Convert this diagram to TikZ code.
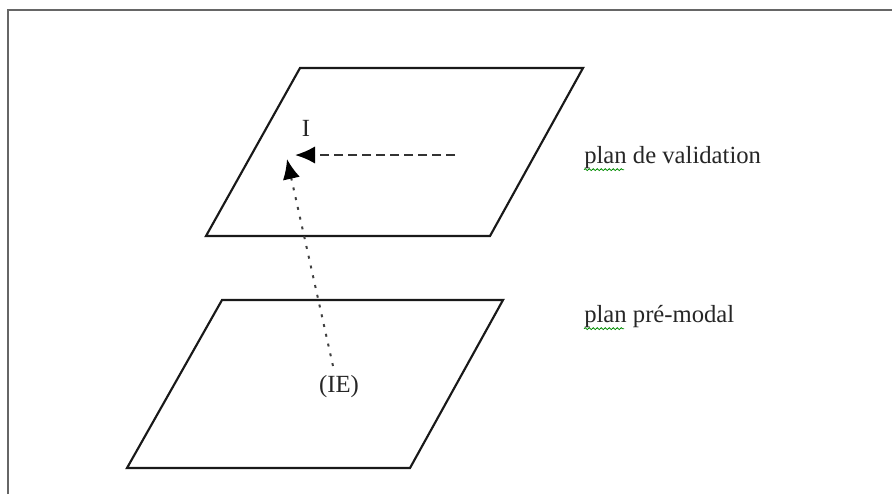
\documentclass[tikz,border=0pt]{standalone}
\usepackage{fontspec}
\setmainfont{Liberation Serif}
\usetikzlibrary{arrows.meta,decorations.pathmorphing}
\begin{document}
\begin{tikzpicture}[x=0.75pt,y=-0.75pt,
  frameline/.style={draw=black!60, line width=2pt},
  plane/.style={draw=black!90, line width=1.6pt, line join=miter},
  lbl/.style={inner sep=0pt, font=\fontsize{18.5pt}{21pt}\selectfont, text=black!85},
  dasharrow/.style={draw=black!80, line width=1.7pt, dash pattern=on 7pt off 3.5pt,
    -{Latex[length=15pt,width=13pt,color=black]}},
  dotarrow/.style={draw=black!75, line width=1.5pt, dash pattern=on 2.2pt off 5.3pt,
    -{Latex[length=15pt,width=13pt,color=black]}},
  spell/.style={draw=green!55!black, line width=0.6pt, decorate,
    decoration={snake, amplitude=0.7pt, segment length=3pt}}]
\useasboundingbox (0,0) rectangle (892,494);
\fill[white] (0,0) rectangle (892,494);
% outer frame (top and left edges)
\draw[frameline] (8,494) -- (8,10) -- (892,10);
% the two planes
\draw[plane] (300,68) -- (583,68) -- (490,236) -- (206,236) -- cycle;
\draw[plane] (222,300) -- (503,300) -- (410,468) -- (127,468) -- cycle;
% labels
\node[lbl, anchor=base west] (val) at (584,163) {plan de validation};
\node[lbl, anchor=base west] (pre) at (584,322) {plan pré-modal};
\node[lbl] (I) at (306,128) {I};
\node[lbl] (IE) at (339,387) {(IE)};
% spelling marks under "plan"
\draw[spell] ([yshift=-5pt]val.base west) -- ++(40,0);
\draw[spell] ([yshift=-5pt]pre.base west) -- ++(40,0);
% arrows meeting at I
\coordinate (hstart) at (455,155);
\coordinate (htip) at (295,155);
\coordinate (vstart) at (333,366);
\coordinate (vtip) at (287,159);
\draw[dasharrow] (hstart) -- (htip);
\draw[dotarrow] (vstart) -- (vtip);
\end{tikzpicture}
\end{document}
